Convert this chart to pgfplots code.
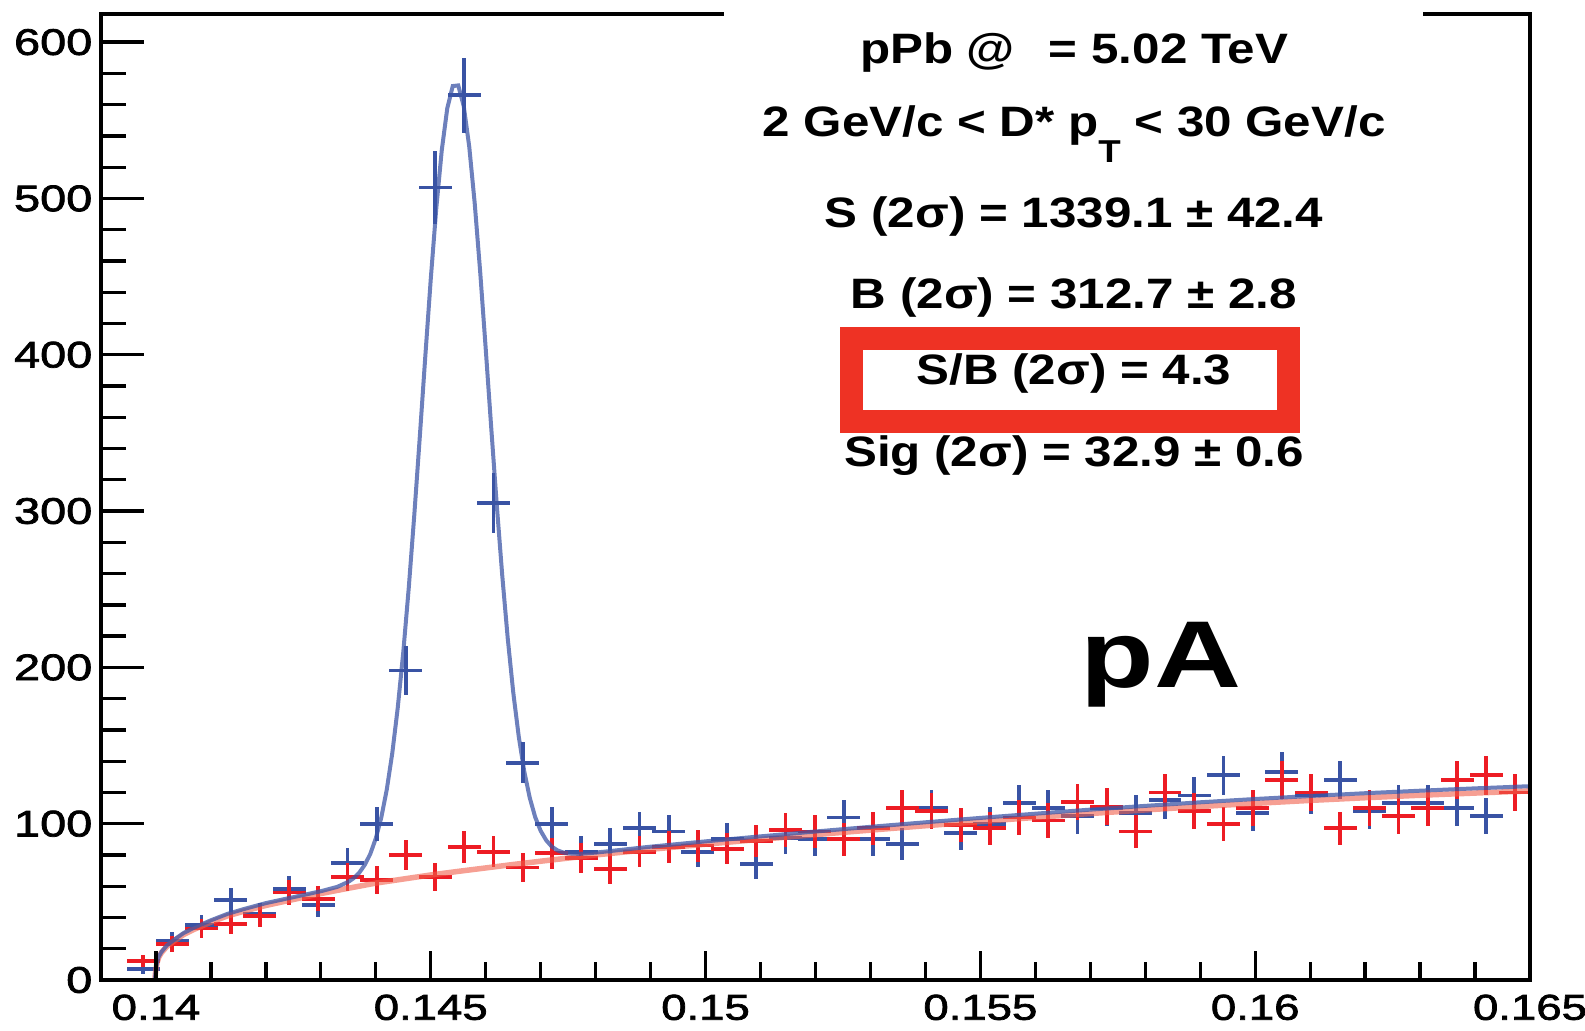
\documentclass[border=0pt]{standalone}
\usepackage{fontspec}
\setmainfont{Liberation Sans}
\newfontfamily\tickfont{Liberation Sans}[FakeStretch=1.27, FakeBold=2]
\newfontfamily\boxfont{Liberation Sans}[FakeStretch=1.16]
\newfontfamily\pafont{Liberation Sans}[FakeStretch=1.27]
\usepackage{pgfplots}
\usepackage{pgfplotstable}
\pgfplotsset{compat=1.18}

\definecolor{dblue}{RGB}{57,83,164}
\definecolor{dred}{RGB}{237,28,36}
\definecolor{fitred}{RGB}{240,95,75}
\definecolor{fitblue}{RGB}{60,85,165}
\definecolor{boxred}{RGB}{238,50,36}

\pgfplotstableread{
x yb eb yr er
0.139766 7 2.9 12 3.8
0.140297 25 5.5 23 5.3
0.140828 35 6.5 33 6.3
0.141359 51 7.9 36 6.6
0.141891 42 7.1 41 7.0
0.142422 58 8.4 56 8.2
0.142953 48 7.6 52 7.9
0.143484 75 9.5 66 8.9
0.144016 100 11.0 64 8.8
0.144547 198 15.5 80 9.8
0.145078 507 23.5 66 8.9
0.145609 566 24.0 85 10.1
0.146141 305 19.2 82 10.0
0.146672 139 13.0 72 9.3
0.147203 100 11.0 81 9.9
0.147734 82 10.0 78 9.7
0.148266 87 10.3 71 9.3
0.148797 97 10.8 82 10.0
0.149328 95 10.7 85 10.1
0.149859 82 10.0 86 10.2
0.150391 90 10.4 84 10.1
0.150922 74 9.5 89 10.4
0.151453 91 10.5 96 10.8
0.151984 90 10.4 95 10.7
0.152516 104 11.2 90 10.4
0.153047 90 10.4 97 10.8
0.153578 87 10.3 110 11.5
0.154109 110 11.5 108 11.4
0.154641 94 10.7 99 10.9
0.155172 100 11.0 97 10.8
0.155703 113 11.7 104 11.2
0.156234 110 11.5 102 11.1
0.156766 105 11.3 114 11.7
0.157297 110 11.5 111 11.6
0.157828 107 11.4 95 10.7
0.158359 115 11.8 120 12.0
0.158891 118 11.9 108 11.4
0.159422 131 12.6 100 11.0
0.159953 107 11.4 110 11.5
0.160484 133 12.7 128 12.4
0.161016 118 11.9 120 12.0
0.161547 128 12.4 97 10.8
0.162078 108 11.4 110 11.5
0.162609 113 11.7 105 11.3
0.163141 113 11.7 110 11.5
0.163672 110 11.5 128 12.4
0.164203 105 11.3 131 12.6
0.164734 120 12.0 120 12.0
}\datatab

\pgfplotstableread{
x y
0.13998 0
0.13999 4
0.14000 7
0.14002 11
0.14005 14.5
0.14010 17.5
0.14020 21.5
0.14035 25.5
0.14050 29
0.14070 32.5
0.14100 37
0.14130 41
0.14160 44
0.14200 47.7
0.14250 51.5
0.14300 55.3
0.14350 58.7
0.14400 62
0.14450 64.6
0.14500 67.2
0.14550 69.5
0.14600 71.7
0.14650 73.9
0.14700 76
0.14750 78
0.14800 80
0.14900 83.6
0.15000 86.9
0.15100 90
0.15200 93
0.15300 95.9
0.15400 98.7
0.15500 101.4
0.15600 104
0.15700 106.5
0.15800 108.8
0.15900 111
0.16000 113
0.16100 114.9
0.16200 116.6
0.16300 118.2
0.16400 119.6
0.16500 121
}\redfit

\pgfplotstableread{
x y
0.13998 0
0.13999 4
0.14000 7.2
0.14002 11.3
0.14005 14.9
0.14010 18
0.14020 22.2
0.14035 26.3
0.14050 30
0.14070 33.6
0.14100 38.2
0.14130 42.3
0.14160 45.4
0.14200 49.2
0.14250 53
0.14300 56.8
0.14330 59.6
0.14350 62.8
0.14360 65.2
0.14370 68.7
0.14380 73.7
0.14390 80.7
0.14400 90.6
0.14410 104
0.14420 121.9
0.14430 145.2
0.14440 174.4
0.14450 209.8
0.14460 251.1
0.14470 297.4
0.14480 347.3
0.14490 398.7
0.14500 448.5
0.14510 493.6
0.14520 530.8
0.14530 557.6
0.14540 571.9
0.14550 572.3
0.14560 559
0.14570 533.1
0.14580 496.7
0.14590 452.6
0.14600 403.7
0.14610 353.3
0.14620 304.4
0.14630 259
0.14640 218.7
0.14650 184.2
0.14660 155.9
0.14670 133.6
0.14680 116.7
0.14690 104.2
0.14700 95.4
0.14710 89.4
0.14720 85.4
0.14730 83
0.14740 81.7
0.14750 81
0.14770 80.7
0.14800 81.5
0.14900 85.3
0.15000 88.7
0.15100 91.9
0.15200 95
0.15300 98
0.15400 100.9
0.15500 103.7
0.15600 106.4
0.15700 109
0.15800 111.4
0.15900 113.7
0.16000 115.8
0.16100 117.7
0.16200 119.5
0.16300 121.1
0.16400 122.6
0.16500 124
}\bluefit

\begin{document}
\begin{tikzpicture}
\useasboundingbox (-10.1mm,-5.0mm) rectangle (148.4mm,98.0mm);
\begin{axis}[
  at={(0,0)}, anchor=south west,
  scale only axis, width=142.9mm, height=96.6mm,
  xmin=0.139, xmax=0.165, ymin=0, ymax=618,
  axis line style={line width=0.4mm, black},
  tick align=inside, ytick pos=left,
  xtick=\empty,
  ytick={0,100,200,300,400,500,600},
  yticklabels={0,100,200,300,400,500,600},
  minor y tick num=4,
  major tick length=4.3mm, minor tick length=2.5mm,
  tick style={line width=0.33mm, black},
  yticklabel style={font=\tickfont\fontsize{10.5}{10.5}\selectfont, inner sep=0pt, xshift=-0.8mm},
  scaled x ticks=false, scaled y ticks=false,
]
\addplot[only marks, mark=*, mark options={draw opacity=0, fill opacity=0}, dblue,
  error bars/.cd, x dir=both, x explicit, y dir=both, y explicit, error mark=none,
  error bar style={line width=0.38mm, dblue, draw opacity=1}]
  table[x=x, y=yb, x error expr=0.0003, y error=eb] {\datatab};
\addplot[only marks, mark=*, mark options={draw opacity=0, fill opacity=0}, dred,
  error bars/.cd, x dir=both, x explicit, y dir=both, y explicit, error mark=none,
  error bar style={line width=0.38mm, dred, draw opacity=1}]
  table[x=x, y=yr, x error expr=0.0003, y error=er] {\datatab};
\addplot[fitred, line width=0.55mm, opacity=0.6] table[x=x, y=y] {\redfit};
\addplot[fitblue, line width=0.4mm, opacity=0.75] table[x=x, y=y] {\bluefit};
\end{axis}
\begin{axis}[
  at={(0,0)}, anchor=south west,
  scale only axis, width=142.9mm, height=96.6mm,
  xmin=0.139, xmax=0.165, ymin=0, ymax=618,
  axis line style={line width=0.4mm, black},
  tick align=inside, xtick pos=bottom,
  ytick=\empty,
  xtick={0.14,0.145,0.15,0.155,0.16,0.165},
  xticklabels={0.14,0.145,0.15,0.155,0.16,0.165},
  minor x tick num=4,
  major tick length=2.9mm, minor tick length=1.8mm,
  tick style={line width=0.33mm, black},
  xticklabel style={font=\tickfont\fontsize{10.2}{10.2}\selectfont, inner sep=0pt, yshift=-1.4mm},
  scaled x ticks=false, scaled y ticks=false,
]
\end{axis}
\fill[white] (62.3mm,95.4mm) rectangle (132.2mm,97.9mm);
\draw[boxred, line width=2.3mm] (75.0mm,55.9mm) rectangle (118.7mm,64.1mm);
\begin{scope}[every node/.style={anchor=base, inner sep=0pt, font=\boxfont\bfseries\fontsize{12.1}{12.1}\selectfont}]
\node at (97.3mm,91.67mm) {pPb @\hspace*{3.4mm}= 5.02 TeV};
\node at (97.3mm,84.33mm) {2 GeV/c < D* p\raisebox{-2.6mm}{\fontsize{9}{9}\selectfont T} < 30 GeV/c};
\node at (97.3mm,75.23mm) {S (2σ) = 1339.1 ± 42.4};
\node at (97.3mm,67.17mm) {B (2σ) = 312.7 ± 2.8};
\node at (97.3mm,59.5mm) {S/B (2σ) = 4.3};
\node at (97.3mm,51.33mm) {Sig (2σ) = 32.9 ± 0.6};
\end{scope}
\node[anchor=base, inner sep=0pt, font=\pafont\bfseries\fontsize{27}{27}\selectfont] at (106mm,29.25mm) {pA};
\end{tikzpicture}
\end{document}
